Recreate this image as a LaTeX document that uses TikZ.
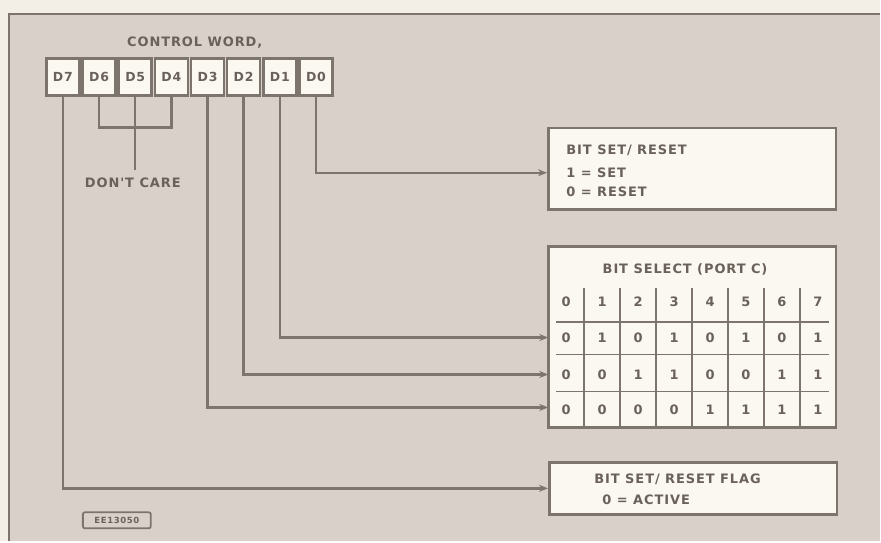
\documentclass[tikz,border=0pt]{standalone}
\usepackage{fontspec}
\usetikzlibrary{positioning,arrows.meta}
\newfontfamily\stencil{DejaVu Sans}[LetterSpace=7]
\definecolor{paper}{HTML}{F3EFE6}
\definecolor{panel}{HTML}{D9D1C9}
\definecolor{ink}{HTML}{7D746D}
\definecolor{inktext}{HTML}{6A615B}
\definecolor{boxfill}{HTML}{FBF8F1}
\tikzset{
  cell/.style={draw=ink,line width=2.6pt,fill=boxfill,minimum width=33pt,minimum height=37pt,inner sep=0pt,font=\stencil\bfseries\fontsize{12.5}{14}\selectfont,text=inktext},
  infobox/.style={draw=ink,line width=2.6pt,fill=boxfill,inner sep=0pt},
  lbl/.style={font=\stencil\bfseries\fontsize{13}{15}\selectfont,text=inktext,inner sep=0pt},
  wire/.style={draw=ink,line width=2.4pt},
  feed/.style={wire,-{Stealth[length=9pt,width=7pt]}},
}
\begin{document}
\begin{tikzpicture}[x=1pt,y=-1pt]
% background sheet
\fill[paper] (0,0) rectangle (881,542);
\fill[panel] (9,14) rectangle (881,542);
\draw[ink,line width=2.4pt] (9,542) -- (9,14) -- (881,14);

% control word
\node[lbl] (title) at (195,43) {CONTROL WORD,};
\node[cell] (d7) at (63,77) {D7};
\node[cell,right=0.6pt of d7] (d6) {D6};
\node[cell,right=0.6pt of d6] (d5) {D5};
\node[cell,right=0.6pt of d5] (d4) {D4};
\node[cell,right=0.6pt of d4] (d3) {D3};
\node[cell,right=0.6pt of d3] (d2) {D2};
\node[cell,right=0.6pt of d2] (d1) {D1};
\node[cell,right=0.6pt of d1] (d0) {D0};

% target boxes
\node[infobox,minimum width=288pt,minimum height=82pt] (setreset) at (693,169) {};
\node[lbl,anchor=west] (sr1) at (567,150) {BIT SET/ RESET};
\node[lbl,anchor=west] (sr2) at (567,173) {1 = SET};
\node[lbl,anchor=west] (sr3) at (567,192) {0 = RESET};

\node[infobox,minimum width=288pt,minimum height=181pt] (tbl) at (693,337.5) {};
\node[lbl] (tbltitle) at (686,270) {BIT SELECT (PORT C)};

\node[infobox,minimum width=288pt,minimum height=52pt] (flag) at (694,489) {};
\node[lbl,anchor=west] (fl1) at (595,480) {BIT SET/ RESET FLAG};
\node[lbl,anchor=west] (fl2) at (603,500) {0 = ACTIVE};

% table grid
\foreach \k in {0,...,6}
  \draw[ink,line width=1.9pt] (585+36*\k,288) -- (585+36*\k,428);
\foreach \yy in {322,355,392}
  \draw[ink,line width=1.9pt] (557,\yy) -- (830,\yy);
\foreach \v [count=\c from 0] in {0,1,2,3,4,5,6,7}
  \node[lbl] (h\c) at (567+36*\c,302) {\v};
\foreach \v [count=\c from 0] in {0,1,0,1,0,1,0,1}
  \node[lbl] (a\c) at (567+36*\c,338) {\v};
\foreach \v [count=\c from 0] in {0,0,1,1,0,0,1,1}
  \node[lbl] (b\c) at (567+36*\c,375) {\v};
\foreach \v [count=\c from 0] in {0,0,0,0,1,1,1,1}
  \node[lbl] (e\c) at (567+36*\c,410) {\v};

% don't care bracket
\coordinate (care) at (135,170);
\node[lbl] (dontcare) at (133,183) {DON'T CARE};
\draw[wire] (d6.south) -- ++(0,31) -| (d4.south);
\draw[wire] (d5.south) -- (d5.south |- care);

% feeds
\coordinate (row1) at (549,338);
\coordinate (row2) at (549,375);
\coordinate (row3) at (549,408);
\draw[feed] (d0.south) |- (setreset.west |- 0,173);
\draw[feed] (d1.south) |- (row1);
\draw[feed] (d2.south) |- (row2);
\draw[feed] (d3.south) |- (row3);
\draw[feed] (d7.south) |- (flag.west);

% drawing number
\node[draw=ink,line width=1.8pt,rounded corners=2pt,minimum width=68pt,minimum height=16pt,inner sep=0pt,font=\stencil\bfseries\fontsize{8.5}{9}\selectfont,text=inktext] (dwg) at (117,521) {EE13050};
\end{tikzpicture}
\end{document}
